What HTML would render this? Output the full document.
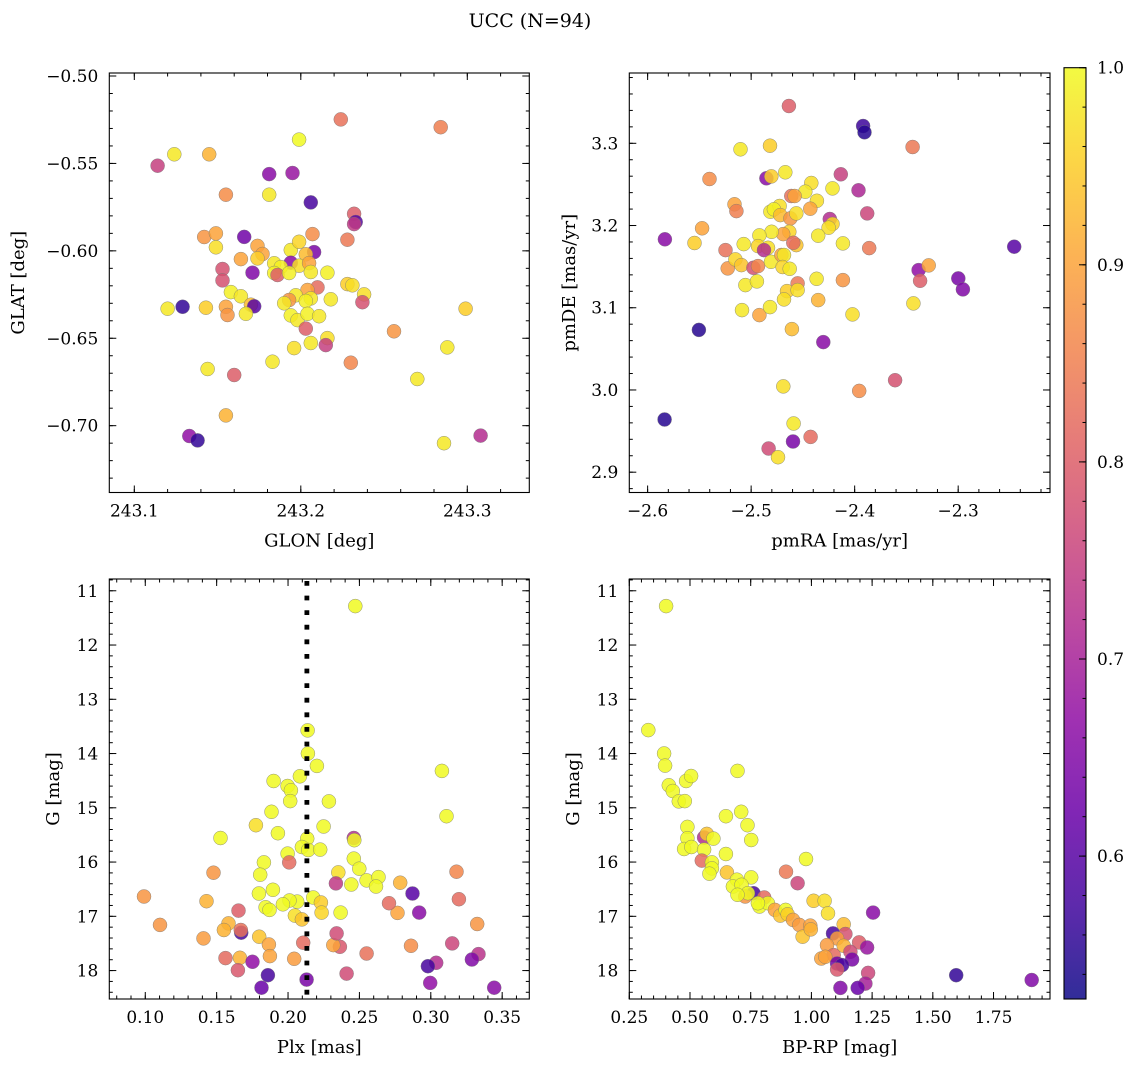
<!DOCTYPE html>
<html><head><meta charset="utf-8"><style>
html,body{margin:0;padding:0;background:#fff;}
svg{display:block;font-family:"DejaVu Serif","Liberation Serif",serif;}
</style></head><body>
<svg id="fig" width="1136" height="1067" viewBox="0 0 1136 1067" xmlns="http://www.w3.org/2000/svg">
<text x="530" y="27" font-size="19" text-anchor="middle">UCC (N=94)</text>
</svg>
<script>
// ---- Panel 1: GLON vs GLAT ----
const tlLon=[243.224,243.284,243.199,243.114,243.124,243.145,243.181,243.195,243.155,243.181,243.206,243.232,243.233,243.232,243.228,243.142,243.149,243.149,243.166,243.174,243.177,243.174,243.164,243.153,243.153,243.171,243.194,243.199,243.207,243.208,243.203,243.194,243.184,243.188,243.199,243.205,243.184,243.186,243.193,243.206,243.216,243.210,243.228,243.231,243.238,243.237,243.204,243.197,243.193,243.206,243.203,243.190,243.218,243.158,243.164,243.170,243.172,243.155,243.156,243.167,243.143,243.129,243.120,243.194,243.198,243.204,243.211,243.203,243.216,243.215,243.196,243.206,243.256,243.299,243.288,243.183,243.230,243.270,243.144,243.160,243.155,243.133,243.138,243.286,243.308];
const tlLat=[-0.5248,-0.5293,-0.5364,-0.5513,-0.5448,-0.5448,-0.5561,-0.5555,-0.5679,-0.5679,-0.5723,-0.5788,-0.5835,-0.5847,-0.5936,-0.5921,-0.5900,-0.5980,-0.5920,-0.5972,-0.6018,-0.6043,-0.6047,-0.6104,-0.6169,-0.6125,-0.5995,-0.5948,-0.5904,-0.6007,-0.6020,-0.6068,-0.6071,-0.6093,-0.6085,-0.6070,-0.6127,-0.6138,-0.6127,-0.6121,-0.6125,-0.6209,-0.6190,-0.6197,-0.6249,-0.6294,-0.6224,-0.6254,-0.6281,-0.6272,-0.6287,-0.6300,-0.6277,-0.6236,-0.6260,-0.6308,-0.6317,-0.6320,-0.6367,-0.6360,-0.6325,-0.6320,-0.6331,-0.6369,-0.6396,-0.6360,-0.6374,-0.6445,-0.6499,-0.6539,-0.6556,-0.6527,-0.6460,-0.6331,-0.6552,-0.6634,-0.6640,-0.6733,-0.6676,-0.6710,-0.6941,-0.7059,-0.7084,-0.7100,-0.7057];
const tlProb=[0.83,0.85,1.0,0.75,0.98,0.92,0.66,0.68,0.87,0.98,0.58,0.80,0.60,0.74,0.84,0.88,0.90,0.97,0.63,0.90,0.90,0.95,0.90,0.78,0.78,0.65,0.98,0.96,0.87,0.64,0.93,0.66,0.98,0.99,0.97,0.90,0.99,0.80,0.99,0.98,0.99,0.82,0.95,0.97,0.97,0.78,0.90,0.98,0.88,0.98,0.99,0.98,0.98,0.99,0.98,0.93,0.60,0.90,0.88,0.98,0.95,0.56,0.98,0.99,0.98,0.99,0.98,0.80,0.97,0.75,0.97,0.98,0.88,0.95,0.98,0.98,0.86,0.98,0.98,0.80,0.92,0.67,0.56,0.98,0.72];
// ---- Panel 2: pmRA vs pmDE ----
const trRA=[-2.4635,-2.3918,-2.3905,-2.344,-2.5103,-2.4818,-2.5402,-2.4853,-2.4805,-2.467,-2.4134,-2.3963,-2.3879,-2.4419,-2.4477,-2.4214,-2.4365,-2.4612,-2.458,-2.5161,-2.5142,-2.4429,-2.4814,-2.4725,-2.478,-2.4718,-2.4621,-2.4564,-2.424,-2.4214,-2.4252,-2.4352,-2.4114,-2.386,-2.4631,-2.469,-2.4564,-2.4593,-2.4802,-2.492,-2.5072,-2.4934,-2.4837,-2.4876,-2.5833,-2.5547,-2.5474,-2.5248,-2.5226,-2.5152,-2.5094,-2.4978,-2.4934,-2.4808,-2.4708,-2.4683,-2.4696,-2.4628,-2.5055,-2.4944,-2.4551,-2.4654,-2.4551,-2.4683,-2.4368,-2.4114,-2.4352,-2.5088,-2.492,-2.4818,-2.4021,-2.4606,-2.4303,-2.5505,-2.3382,-2.3285,-2.3368,-2.2999,-2.2954,-2.2459,-2.3433,-2.3609,-2.3956,-2.4689,-2.5836,-2.459,-2.4426,-2.4596,-2.4831,-2.4741];
const trDE=[3.3454,3.3211,3.3134,3.2955,3.2927,3.2971,3.2566,3.2574,3.2598,3.2647,3.2623,3.2428,3.2148,3.2517,3.2411,3.2452,3.2301,3.2359,3.2359,3.2258,3.2176,3.2204,3.2168,3.2237,3.2197,3.2127,3.2087,3.2148,3.2079,3.2018,3.1973,3.1876,3.1783,3.1726,3.1924,3.1896,3.1762,3.179,3.1924,3.188,3.1774,3.175,3.1729,3.1701,3.1832,3.1787,3.1966,3.1701,3.1479,3.1588,3.1519,3.1486,3.1507,3.1559,3.1641,3.1641,3.1495,3.1474,3.1276,3.132,3.1296,3.1203,3.1215,3.1101,3.1352,3.1336,3.1093,3.0971,3.091,3.1008,3.0919,3.074,3.0582,3.0731,3.1458,3.1515,3.1328,3.1357,3.1223,3.1742,3.1053,3.0119,2.9989,3.0043,2.9641,2.9592,2.9429,2.9373,2.9288,2.9182];
const trProb=[0.80,0.57,0.55,0.84,0.98,0.95,0.87,0.66,0.95,0.98,0.75,0.71,0.76,0.97,0.98,0.98,0.97,0.83,0.90,0.90,0.85,0.90,0.98,0.97,0.99,0.93,0.88,0.97,0.72,0.96,0.97,0.98,0.98,0.84,0.96,0.90,0.94,0.82,0.98,0.98,0.98,0.96,0.97,0.72,0.66,0.95,0.90,0.83,0.88,0.96,0.94,0.78,0.86,0.98,0.90,0.98,0.96,0.98,0.98,0.98,0.84,0.95,0.97,0.97,0.98,0.88,0.92,0.98,0.90,0.98,0.97,0.93,0.66,0.55,0.67,0.90,0.80,0.64,0.65,0.60,0.97,0.78,0.87,0.97,0.55,0.98,0.82,0.64,0.77,0.97];
// ---- Panel 3: Plx vs G ----
const blPlx=[0.2471,0.2137,0.2139,0.2202,0.2083,0.1899,0.1997,0.2020,0.2015,0.2286,0.1884,0.3078,0.3110,0.1775,0.2249,0.1929,0.1527,0.2461,0.2464,0.2134,0.2097,0.2141,0.2225,0.1997,0.2008,0.1831,0.1805,0.1478,0.2461,0.2499,0.2352,0.2335,0.2443,0.2550,0.2634,0.2616,0.2786,0.2872,0.3180,0.3197,0.2919,0.2767,0.2707,0.2368,0.3325,0.3150,0.2861,0.3334,0.3288,0.3038,0.2980,0.2996,0.3444,0.2550,0.2410,0.2363,0.2317,0.2340,0.2130,0.2106,0.2043,0.2176,0.2230,0.2235,0.2064,0.2010,0.1964,0.2048,0.2097,0.1796,0.1894,0.1843,0.1870,0.1429,0.0991,0.1103,0.1408,0.1653,0.1583,0.1551,0.1672,0.1669,0.1798,0.1866,0.1873,0.1562,0.1663,0.1649,0.1751,0.1859,0.1814];
const blG=[11.283,13.574,14.0,14.228,14.419,14.506,14.598,14.678,14.876,14.882,15.074,14.32,15.154,15.32,15.344,15.469,15.556,15.556,15.598,15.567,15.722,15.778,15.77,15.844,16.006,16.006,16.233,16.196,15.937,16.122,16.19,16.394,16.413,16.339,16.278,16.45,16.381,16.58,16.178,16.685,16.932,16.937,16.759,16.932,17.141,17.5,17.543,17.696,17.796,17.857,17.919,18.228,18.315,17.685,18.056,17.561,17.53,17.315,18.167,17.487,17.783,16.654,16.746,16.932,16.728,16.709,16.778,16.987,17.056,16.58,16.511,16.833,16.882,16.722,16.635,17.159,17.407,16.894,17.13,17.252,17.302,17.252,17.376,17.519,17.733,17.77,17.765,17.993,17.839,18.085,18.315];
const blProb=[1.0,1.0,1.0,1.0,1.0,1.0,1.0,1.0,1.0,1.0,1.0,1.0,1.0,0.97,1.0,1.0,1.0,0.72,1.0,1.0,1.0,1.0,1.0,1.0,0.82,1.0,1.0,0.88,1.0,1.0,0.97,0.74,1.0,1.0,1.0,1.0,0.92,0.60,0.86,0.82,0.66,0.90,0.82,1.0,0.88,0.76,0.87,0.73,0.65,0.72,0.58,0.67,0.66,0.83,0.77,0.79,0.90,0.77,0.64,0.82,0.89,1.0,0.95,0.96,1.0,1.0,1.0,0.97,0.94,1.0,1.0,1.0,1.0,0.92,0.88,0.88,0.89,0.80,0.92,0.92,0.58,0.83,0.94,0.90,0.90,0.82,0.92,0.79,0.67,0.58,0.62];
// ---- Panel 4: BP-RP vs G ----
const brCol=[0.4014,0.3284,0.3932,0.3973,0.4125,0.429,0.4538,0.4785,0.4839,0.5045,0.6955,0.7108,0.6477,0.7368,0.7521,0.4893,0.4893,0.5582,0.5693,0.5965,0.4757,0.5058,0.5582,0.6477,0.5487,0.59,0.59,0.58,0.6518,0.9777,0.7521,0.8952,0.943,0.6931,0.6766,0.712,0.7616,0.7273,0.7385,0.8057,0.7863,0.821,0.8498,0.8717,0.8936,0.9018,0.9241,0.9501,0.9637,0.9955,0.9973,1.009,1.0545,1.0685,1.2541,1.0891,1.1328,1.1399,1.1056,1.0644,1.1328,1.1964,1.2294,1.1605,1.1675,1.0916,1.0408,1.0573,1.1056,1.1262,1.1056,1.2335,1.2224,1.1192,1.1906,1.5965,1.9072,0.7797,0.6955];
const brG=[11.283,13.567,14.0,14.222,14.585,14.691,14.882,14.876,14.506,14.413,14.32,15.074,15.154,15.32,15.593,15.352,15.561,15.548,15.481,15.567,15.759,15.722,15.77,15.852,15.974,16.006,16.117,16.215,16.19,15.944,16.283,16.178,16.389,16.326,16.45,16.419,16.574,16.635,16.574,16.654,16.82,16.759,16.882,16.987,16.882,16.963,17.067,17.159,17.376,17.172,17.241,16.715,16.715,16.944,16.932,17.315,17.148,17.326,17.407,17.53,17.543,17.481,17.574,17.654,17.796,17.715,17.778,17.746,17.87,17.9,17.981,18.043,18.241,18.32,18.32,18.085,18.174,16.759,16.604];
const brProb=[1.0,1.0,1.0,1.0,1.0,1.0,1.0,1.0,1.0,1.0,1.0,1.0,1.0,1.0,1.0,1.0,1.0,0.72,0.94,1.0,1.0,1.0,1.0,1.0,0.82,1.0,1.0,1.0,0.94,1.0,1.0,0.84,0.76,1.0,1.0,1.0,0.58,0.88,1.0,0.82,1.0,1.0,0.90,0.94,1.0,0.95,0.90,0.89,0.94,0.90,0.92,0.95,0.97,0.97,0.66,0.58,0.93,0.78,0.89,0.89,0.92,0.80,0.68,0.77,0.64,0.82,0.90,0.90,0.63,0.58,0.79,0.76,0.70,0.65,0.62,0.56,0.65,1.0,1.0];
// tick label arrays
const tlXTicks=[243.1,243.2,243.3];
const tlYTicks=[-0.70,-0.65,-0.60,-0.55,-0.50];
const trXTicks=[-2.6,-2.5,-2.4,-2.3];
const trYTicks=[2.9,3.0,3.1,3.2,3.3];
const blXTicks=[0.10,0.15,0.20,0.25,0.30,0.35];
const gTicks=[11,12,13,14,15,16,17,18];
const brXTicks=[0.25,0.50,0.75,1.00,1.25,1.50,1.75];
const cbTicks=[0.6,0.7,0.8,0.9,1.0];
const plxLine=[0.2132];

const VMIN=0.5275,VMAX=1.0;
const NS='http://www.w3.org/2000/svg';
const svg=document.getElementById('fig');
const plasma=[[13,8,135],[65,4,157],[106,0,168],[143,13,164],[177,42,144],[204,71,120],[225,100,98],[242,132,75],[252,166,54],[252,206,37],[240,249,33]];
function cmap(v){let t=(v-VMIN)/(VMAX-VMIN);t=Math.max(0,Math.min(1,t))*10;const i=Math.min(9,Math.floor(t)),f=t-i;const a=plasma[i],b=plasma[i+1];
return 'rgb('+a.map((c,k)=>Math.round(c+(b[k]-c)*f)).join(',')+')';}
function mk(tag,attrs,parent){const e=document.createElementNS(NS,tag);for(const k in attrs)e.setAttribute(k,attrs[k]);(parent||svg).appendChild(e);return e;}
function lin(d0,d1,r0,r1){return v=>r0+(v-d0)/(d1-d0)*(r1-r0);}

function panel(o){
  const g=mk('g',{});
  
  
  const sx=lin(o.xd[0],o.xd[1],o.L,o.R), sy=lin(o.yd[0],o.yd[1],o.B,o.T);
  const pts=mk('g',{},g);
  
  
  for(let i=0;i<o.xs.length;i++){
    const c=mk('circle',{cx:sx(o.xs[i]).toFixed(1),cy:sy(o.ys[i]).toFixed(1),r:7,fill:cmap(o.ps[i]),'fill-opacity':0.85,stroke:'#777','stroke-width':0.5,'stroke-opacity':0.8},pts);
    
    
  }
  if(o.vline){for(const v of o.vline){const l=mk('line',{x1:sx(v),x2:sx(v),y1:o.T+2,y2:o.B,stroke:'#000','stroke-width':4.8,'stroke-dasharray':'4.8 9.8'},g);
    
    }}
  const tk=mk('g',{stroke:'#000','stroke-width':1},g);
  function xt(v,len){const x=sx(v);if(x<o.L-0.5||x>o.R+0.5)return;mk('line',{x1:x,x2:x,y1:o.B,y2:o.B-len},tk);mk('line',{x1:x,x2:x,y1:o.T,y2:o.T+len},tk);}
  function yt(v,len){const y=sy(v);if((y<o.T-0.5)||(y>o.B+0.5))return;mk('line',{x1:o.L,x2:o.L+len,y1:y,y2:y},tk);mk('line',{x1:o.R,x2:o.R-len,y1:y,y2:y},tk);}
  const xmin=Math.min(...o.xd),xmax=Math.max(...o.xd),ymin=Math.min(...o.yd),ymax=Math.max(...o.yd);
  for(let k=Math.ceil(xmin/o.xm-1e-6);k*o.xm<=xmax+1e-9;k++)xt(k*o.xm,3.5);
  for(let k=Math.ceil(ymin/o.ym-1e-6);k*o.ym<=ymax+1e-9;k++)yt(k*o.ym,3.5);
  o.xt.forEach(v=>xt(v,7)); o.yt.forEach(v=>yt(v,7));
  mk('rect',{x:o.L,y:o.T,width:o.R-o.L,height:o.B-o.T,fill:'none',stroke:'#000','stroke-width':1.1},g);
  o.xt.forEach(v=>{const t=mk('text',{x:sx(v),y:o.B+24,'font-size':17,'text-anchor':'middle'},g);t.textContent=o.xf(v);
    });
  o.yt.forEach(v=>{const t=mk('text',{x:o.L-11,y:sy(v)+6,'font-size':17,'text-anchor':'end'},g);t.textContent=o.yf(v);
    });
  const xl=mk('text',{x:(o.L+o.R)/2,y:o.B+54,'font-size':18,'text-anchor':'middle'},g);xl.textContent=o.xlab;
  
  const yl=mk('text',{x:0,y:0,'font-size':18,'text-anchor':'middle',transform:'translate('+o.ylx+','+(o.T+o.B)/2+') rotate(-90)'},g);yl.textContent=o.ylab;
  
}
const fmt=(d)=>v=>(v<0?'\u2212':'')+Math.abs(v).toFixed(d);

panel({name:'glon-glat-panel',L:109.3,R:529.3,T:73,B:492.5,xd:[243.08498,243.33724],yd:[-0.73822,-0.49828],xs:tlLon,ys:tlLat,ps:tlProb,xt:tlXTicks,yt:tlYTicks,xm:0.02,ym:0.01,xf:fmt(1),yf:fmt(2),xlab:'GLON [deg]',ylab:'GLAT [deg]',ylx:24});
panel({name:'proper-motion-panel',L:629.3,R:1050,T:73,B:492.5,xd:[-2.6177,-2.2113],yd:[2.8753,3.3855],xs:trRA,ys:trDE,ps:trProb,xt:trXTicks,yt:trYTicks,xm:0.02,ym:0.02,xf:fmt(1),yf:fmt(1),xlab:'pmRA [mas/yr]',ylab:'pmDE [mas/yr]',ylx:575});
panel({name:'parallax-mag-panel',L:109.3,R:529.3,T:579,B:999,xd:[0.0748,0.3690],yd:[18.524,10.783],xs:blPlx,ys:blG,ps:blProb,xt:blXTicks,yt:gTicks,xm:0.01,ym:0.2,xf:fmt(2),yf:fmt(0),xlab:'Plx [mas]',ylab:'G [mag]',ylx:59,vline:plxLine});
panel({name:'cmd-panel',L:629.3,R:1050,T:579,B:999,xd:[0.25,1.9826],yd:[18.524,10.783],xs:brCol,ys:brG,ps:brProb,xt:brXTicks,yt:gTicks,xm:0.05,ym:0.2,xf:fmt(2),yf:fmt(0),xlab:'BP-RP [mag]',ylab:'G [mag]',ylx:579});

(function(){
  const L=1064,R=1086,T=67.7,B=999;
  const g=mk('g',{});
  
  
  const defs=mk('defs',{},g);
  const gr=mk('linearGradient',{id:'pl',x1:0,y1:1,x2:0,y2:0},defs);
  plasma.forEach((c,i)=>mk('stop',{offset:(i/10),'stop-color':'rgb('+c.join(',')+')','stop-opacity':0.85},gr));
  mk('rect',{x:L,y:T,width:R-L,height:B-T,fill:'url(#pl)'},g);
  const sy=lin(VMIN,VMAX,B,T);
  for(let k=Math.ceil(VMIN/0.02);k*0.02<=VMAX+1e-9;k++){const y=sy(k*0.02);mk('line',{x1:R,x2:R-3.5,y1:y,y2:y,stroke:'#000'},g);}
  cbTicks.forEach(v=>{const y=sy(v);mk('line',{x1:R,x2:R-7,y1:y,y2:y,stroke:'#000'},g);
    const t=mk('text',{x:R+11,y:y+6,'font-size':17},g);t.textContent=v.toFixed(1);
    });
  mk('rect',{x:L,y:T,width:R-L,height:B-T,fill:'none',stroke:'#000','stroke-width':1.1},g);
})();
</script>
</body></html>
